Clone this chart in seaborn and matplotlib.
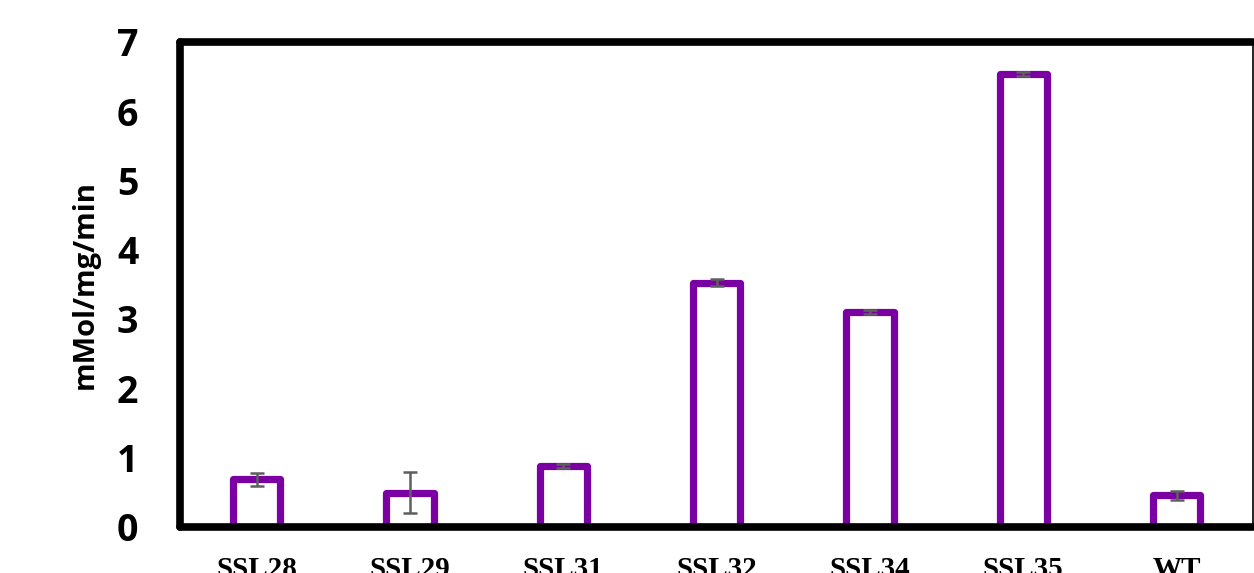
import matplotlib
matplotlib.use("Agg")
import matplotlib.pyplot as plt
import seaborn as sns
import pandas as pd

# data
strains = ["SSL28", "SSL29", "SSL31", "SSL32", "SSL34", "SSL35", "WT"]
activity = [0.68, 0.49, 0.88, 3.52, 3.10, 6.54, 0.45]
activity_err = [0.10, 0.30, 0.03, 0.05, 0.03, 0.03, 0.06]

df = pd.DataFrame({"strain": strains, "activity": activity})

sns.set_theme(style="white")
plt.rcParams["font.family"] = ["Open Sans", "DejaVu Sans"]
plt.rcParams["text.color"] = "black"
plt.rcParams["axes.labelcolor"] = "black"
plt.rcParams["xtick.color"] = "black"
plt.rcParams["ytick.color"] = "black"

fig = plt.figure(figsize=(12.54, 5.73), dpi=100)
ax = fig.add_axes([0.1435, 0.081, 0.856, 0.846])

purple = "#7A00A3"
sns.barplot(data=df, x="strain", y="activity", color="white", edgecolor=purple,
            linewidth=5.2, width=0.31, errorbar=None, ax=ax, zorder=2)
for p in ax.patches:
    p.set_joinstyle("round")

ax.errorbar(range(len(strains)), activity, yerr=activity_err, fmt="none",
            ecolor="#5f5f5f", elinewidth=1.8, capsize=5, capthick=1.8, zorder=3)

ax.set_ylim(0, 7)
ax.set_xlim(-0.5, 6.5)
ax.set_yticks(range(0, 8))
ax.set_xlabel("")
ax.set_ylabel("mMol/mg/min", fontsize=21, fontweight="bold", labelpad=12)

ax.tick_params(axis="y", length=0, pad=30, labelsize=27)
ax.tick_params(axis="x", length=0, pad=21)
for lab in ax.get_yticklabels():
    lab.set_fontweight("bold")
for lab in ax.get_xticklabels():
    lab.set_fontfamily("Liberation Serif")
    lab.set_fontweight("bold")
    lab.set_fontsize(21)

for side in ["left", "bottom", "top"]:
    ax.spines[side].set_linewidth(5.5)
    ax.spines[side].set_color("black")
ax.spines["right"].set_linewidth(1.2)
ax.spines["right"].set_color("black")
for sp in ax.spines.values():
    sp.set_capstyle("round")

fig.savefig("out.png", dpi=100)
